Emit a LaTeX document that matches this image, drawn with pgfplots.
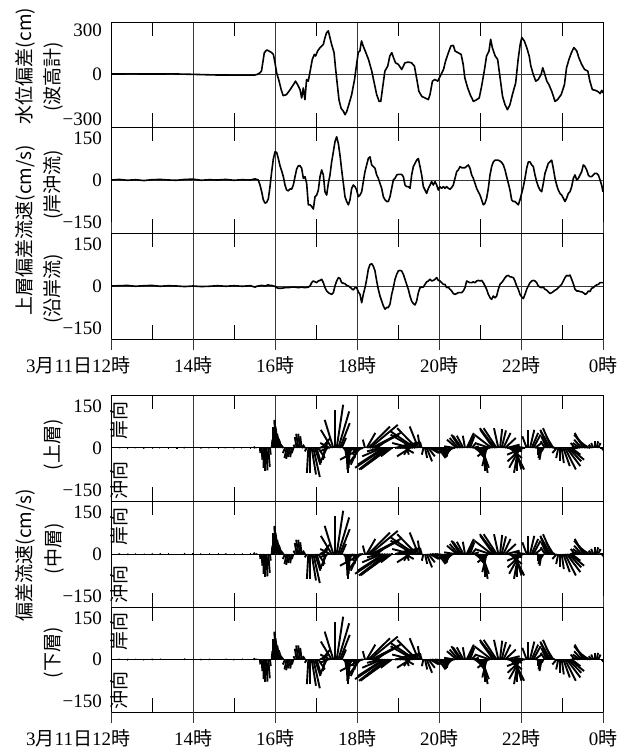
\documentclass[border=0pt]{standalone}
\usepackage{fontspec}
\setmainfont{Liberation Serif}
\newfontfamily\jp{Noto Sans CJK JP}
\usepackage{pgfplots}
\pgfplotsset{compat=1.18}
\usepackage{pgfplotstable}

\pgfplotstableread{
t w
12.00 3
12.50 4
13.00 3
13.50 4
14.00 1
14.50 -3
15.00 -4
15.50 -4
15.56 0
15.63 11
15.67 23
15.74 148
15.80 166
15.85 159
15.92 148
15.96 136
16.00 79
16.04 11
16.10 -45
16.15 -102
16.20 -143
16.28 -136
16.37 -102
16.45 -68
16.50 -45
16.55 -68
16.61 -102
16.65 -159
16.69 -91
16.73 -170
16.77 -34
16.81 -45
16.85 11
16.91 102
16.96 136
16.99 125
17.04 159
17.10 182
17.14 193
17.18 204
17.22 250
17.26 284
17.30 295
17.34 250
17.38 204
17.44 148
17.48 34
17.52 -68
17.56 -170
17.61 -227
17.67 -250
17.71 -272
17.75 -250
17.80 -204
17.87 -136
17.94 -34
17.99 68
18.03 148
18.07 159
18.11 227
18.15 193
18.20 159
18.28 102
18.36 23
18.42 -57
18.48 -136
18.54 -182
18.58 -182
18.63 -79
18.68 23
18.75 57
18.80 125
18.85 148
18.89 114
18.94 79
19.01 68
19.09 34
19.17 79
19.25 84
19.33 79
19.40 57
19.46 -34
19.51 -114
19.58 -148
19.66 -159
19.74 -170
19.78 -136
19.84 -45
19.90 -34
19.97 -45
20.02 -16
20.11 34
20.16 91
20.23 148
20.29 193
20.35 197
20.39 159
20.46 148
20.54 136
20.59 68
20.63 -23
20.70 -91
20.76 -136
20.84 -182
20.92 -170
20.98 -159
21.04 -79
21.11 34
21.16 125
21.22 159
21.26 238
21.30 182
21.37 125
21.43 102
21.49 -23
21.55 -148
21.61 -204
21.67 -238
21.73 -204
21.79 -136
21.87 -57
21.93 102
21.98 204
22.02 250
22.08 227
22.14 182
22.20 125
22.24 57
22.30 0
22.36 -45
22.42 -34
22.49 0
22.53 45
22.57 11
22.63 -45
22.68 -68
22.75 -114
22.83 -182
22.89 -170
22.98 -136
23.06 -68
23.11 45
23.17 102
23.23 148
23.29 182
23.36 159
23.41 114
23.48 68
23.55 34
23.63 23
23.68 -45
23.74 -102
23.81 -107
23.87 -114
23.93 -129
23.97 -107
24.00 -125
}\wl

\pgfplotstableread{
t c a
12.00 0 0
12.20 2 1
12.40 -1 2
12.60 1 -1
12.80 -2 1
13.00 1 2
13.20 2 -1
13.40 0 1
13.60 -1 0
13.80 2 -2
14.00 3 0
14.20 -1 -2
14.40 1 -1
14.60 0 1
14.80 2 -1
15.00 -1 1
15.20 1 -1
15.40 0 1
15.512 4 -4
15.553 2 -1
15.593 0 0
15.634 -18 1
15.675 -42 2
15.715 -71 1
15.756 -83 0
15.797 -80 2
15.837 -68 4
15.878 -24 2
15.919 30 2
15.959 75 0
16.000 101 -1
16.040 99 -6
16.081 77 -8
16.122 51 -8
16.162 33 -8
16.203 12 -7
16.244 -18 -6
16.284 -36 -6
16.325 -39 -6
16.366 -32 -5
16.406 -33 -4
16.447 -18 -4
16.488 12 -4
16.528 39 -5
16.569 51 -6
16.610 51 -5
16.650 42 -4
16.691 6 -5
16.732 12 -6
16.772 -12 -5
16.813 -89 -4
16.854 -89 0
16.894 -95 12
16.935 -104 18
16.976 -60 15
17.016 -54 12
17.057 -36 18
17.098 12 20
17.138 36 24
17.179 18 12
17.219 -42 -6
17.260 -54 -18
17.301 -12 -24
17.341 18 -27
17.382 65 -30
17.423 101 -24
17.463 137 0
17.504 155 18
17.545 131 30
17.585 89 27
17.626 36 12
17.667 -12 10
17.707 -60 8
17.748 -77 2
17.789 -89 0
17.829 -71 -4
17.870 -30 -10
17.911 -18 -14
17.951 -24 -6
17.992 -36 -6
18.033 -60 -21
18.073 -54 -30
18.114 -42 -60
18.154 -6 -30
18.195 30 -6
18.236 54 24
18.276 77 60
18.317 83 77
18.358 54 80
18.398 48 71
18.439 42 54
18.480 18 18
18.520 6 -12
18.561 -12 -36
18.602 -30 -54
18.642 -60 -71
18.683 -71 -83
18.724 -77 -77
18.764 -77 -77
18.805 -60 -65
18.846 -30 -30
18.886 0 -6
18.927 6 24
18.968 18 42
19.008 20 54
19.049 20 56
19.089 20 54
19.130 12 42
19.171 -18 24
19.211 -24 6
19.252 -24 -12
19.293 -30 -36
19.333 18 -54
19.374 48 -63
19.415 60 -68
19.455 71 -54
19.496 77 -24
19.537 48 -6
19.577 18 -4
19.618 -24 -4
19.659 -36 6
19.699 -48 15
19.740 -30 18
19.781 -18 24
19.821 -6 18
19.862 -18 20
19.902 -6 24
19.943 -18 30
19.984 -36 20
20.024 -24 18
20.065 -30 12
20.106 -24 6
20.146 -30 6
20.187 -24 -6
20.227 -30 -4
20.268 -33 -12
20.309 -27 -18
20.349 -18 -27
20.390 6 -30
20.431 30 -27
20.471 36 -24
20.512 48 -24
20.553 44 -24
20.593 44 -18
20.634 44 -6
20.675 49 18
20.715 54 15
20.756 42 12
20.797 18 12
20.837 6 15
20.878 -12 12
20.918 -30 18
20.959 -42 20
21.000 -54 18
21.040 -71 20
21.081 -89 12
21.122 -83 0
21.162 -65 -12
21.203 -30 -30
21.244 18 -42
21.284 48 -48
21.325 65 -36
21.366 71 -42
21.406 71 -36
21.447 71 -12
21.488 68 6
21.528 63 12
21.569 54 20
21.610 36 30
21.650 12 36
21.691 -12 38
21.731 -36 33
21.772 -71 32
21.813 -77 30
21.853 -77 18
21.894 -83 0
21.935 -89 -12
21.975 -71 -30
22.016 -48 -39
22.057 -24 -45
22.097 6 -30
22.138 42 -12
22.179 65 0
22.219 65 12
22.260 54 18
22.301 48 20
22.341 18 18
22.382 -6 12
22.423 -24 0
22.463 -36 -4
22.504 -42 -6
22.544 -12 -4
22.585 24 -12
22.626 42 -15
22.666 60 -21
22.707 65 -27
22.748 71 -24
22.788 42 -20
22.829 6 -15
22.870 -18 -12
22.910 -36 -6
22.951 -48 0
22.992 -54 6
23.032 -65 18
23.073 -77 30
23.114 -65 38
23.154 -48 36
23.195 -42 39
23.236 -24 24
23.276 6 8
23.317 18 -12
23.358 0 -18
23.398 6 -18
23.439 18 -20
23.480 30 -21
23.520 54 -24
23.561 48 -30
23.602 36 -27
23.642 18 -18
23.683 12 -20
23.723 12 -8
23.764 18 -6
23.805 24 0
23.845 24 4
23.886 18 6
23.927 0 12
23.967 -18 12
24.000 -42 12
}\vel

\definecolor{gridc}{RGB}{55,55,55}
\newcommand{\fs}{\fontsize{19bp}{22bp}\selectfont}

\pgfplotsset{
  panel/.style={
    scale only axis, width=492bp,
    xmin=12, xmax=24,
    axis line style={black, line width=0.9bp},
    xtick={13,15,...,23}, xticklabels={},
    major tick length=14bp, tick align=inside,
    xtick style={black, line width=0.9bp},
    minor xtick={12,14,...,24}, minor tick length=0pt,
    xminorgrids=true,
    minor x grid style={gridc, line width=0.9bp},
    ytick style={draw=none},
    major y grid style={gridc, line width=0.9bp},
    tick label style={font=\fs},
    yticklabel style={inner sep=0pt, xshift=-9bp},
    ymajorgrids=true,
    ytick={0}, yticklabels={0},
    extra y tick style={grid=none},
  },
  vpanel/.style={panel, ymin=-190, ymax=190,
    extra y ticks={-150,150}, extra y tick labels={−150,150}},
  bottom/.style={
    extra x ticks={12,14,...,24},
    extra x tick labels={\llap{3{\jp 月}11{\jp 日}}12{\jp 時},14{\jp 時},16{\jp 時},18{\jp 時},20{\jp 時},22{\jp 時},0{\jp 時}},
    extra x tick style={tick align=outside, major tick length=11bp, xtick style={gridc, line width=0.9bp}, grid=none,
      xticklabel style={inner sep=0pt, anchor=north, yshift=-6bp}},
  },
  stick/.style={black, line width=1.9bp, quiver={u=\thisrow{a}*0.0088, v=\thisrow{c}}},
  tsline/.style={black, line width=1.6bp, line join=round},
}

\begin{document}
\begin{tikzpicture}
\useasboundingbox (0,0) rectangle (634bp,754bp);

% ---- upper group ----
\begin{axis}[panel, at={(111bp,627bp)}, anchor=south west, height=105bp,
  ymin=-355, ymax=355, extra y ticks={-300,300}, extra y tick labels={−300,300}]
\addplot[tsline] table[x=t, y=w] {\wl};
\end{axis}

\begin{axis}[vpanel, at={(111bp,521bp)}, anchor=south west, height=106bp]
\addplot[tsline] table[x=t, y=c] {\vel};
\end{axis}

\begin{axis}[vpanel, bottom, at={(111bp,415bp)}, anchor=south west, height=106bp]
\addplot[tsline] table[x=t, y=a] {\vel};
\end{axis}

% ---- stick plots ----
\begin{axis}[vpanel, at={(111bp,253bp)}, anchor=south west, height=106bp,
  major y grid style={black, line width=1bp}]
\addplot[stick] table[x=t, y expr=0] {\vel};
\end{axis}

\begin{axis}[vpanel, at={(111bp,147bp)}, anchor=south west, height=106bp,
  major y grid style={black, line width=1bp}]
\addplot[stick] table[x=t, y expr=0] {\vel};
\end{axis}

\begin{axis}[vpanel, bottom, at={(111bp,42bp)}, anchor=south west, height=105bp,
  major y grid style={black, line width=1bp}]
\addplot[stick] table[x=t, y expr=0] {\vel};
\end{axis}

% ---- labels ----
\begin{scope}[every node/.style={rotate=90, font=\fs\jp, inner sep=0pt}]
\node at (25bp,688bp) {水位偏差(cm)};
\node at (25bp,524bp) {上層偏差流速(cm/s)};
\node at (53bp,677bp) {(波高計)};
\node at (53bp,569bp) {(岸沖流)};
\node at (53bp,465bp) {(沿岸流)};
\node at (25bp,199bp) {偏差流速(cm/s)};
\node at (54bp,309bp) {(上層)};
\node at (54bp,205bp) {(中層)};
\node at (54bp,101bp) {(下層)};
\node at (119bp,333bp) {岸向};
\node at (119bp,273bp) {沖向};
\node at (119bp,227bp) {岸向};
\node at (119bp,169bp) {沖向};
\node at (119bp,122bp) {岸向};
\node at (119bp,63bp) {沖向};
\end{scope}
\end{tikzpicture}
\end{document}
